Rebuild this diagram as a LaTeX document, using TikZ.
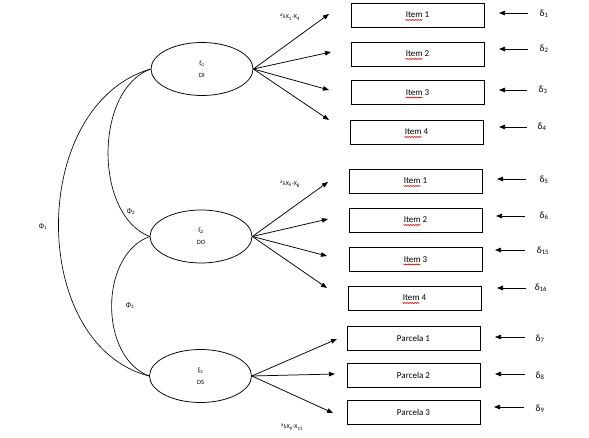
\documentclass[tikz,border=0pt]{standalone}
\usepackage{fontspec}
\setmainfont{Carlito}
\usetikzlibrary{arrows.meta,shapes.geometric,calc,decorations.pathmorphing}
\tikzset{
  every picture/.style={x=1pt,y=-1pt},
  lat/.style={draw,ellipse,line width=0.75pt,minimum width=102pt,minimum height=53pt,inner sep=0pt,align=center,font=\fontsize{6.5}{7}\selectfont},
  itembox/.style={draw,rectangle,line width=0.75pt,minimum width=133pt,minimum height=24pt,inner sep=0pt,font=\fontsize{9}{10}\selectfont},
  load/.style={line width=0.75pt,-{Triangle[length=6pt,width=4.5pt]}},
  err/.style={line width=0.75pt,-{Triangle[length=6pt,width=4.5pt]}},
  cov/.style={line width=0.65pt},
  dlab/.style={font=\fontsize{9.5}{10}\selectfont,inner sep=0pt},
  lamlab/.style={font=\fontsize{6}{7}\selectfont,inner sep=0pt},
  philab/.style={font=\fontsize{7}{8}\selectfont,inner sep=0pt},
  spell/.style={red!80!black,line width=0.4pt,decorate,decoration={zigzag,amplitude=0.5pt,segment length=1.6pt}},
}
\begin{document}
\begin{tikzpicture}
\useasboundingbox (0,0) rectangle (589,438);
% latent variables
\node[lat] (e1) at (202,69) {ξ\textsubscript{1}\\[5pt]DI};
\node[lat] (e2) at (201,236.5) {ξ\textsubscript{2}\\[5pt]DO};
\node[lat] (e3) at (200.5,376) {ξ\textsubscript{3}\\[5pt]DS};
% indicator boxes
\node[itembox] (b1) at (417.5,15) {Item 1};
\node[itembox] (b2) at (417.5,54) {Item 2};
\node[itembox] (b3) at (417.5,92.5) {Item 3};
\node[itembox] (b4) at (416.5,132) {Item 4};
\node[itembox] (b5) at (415.5,181) {Item 1};
\node[itembox] (b6) at (415.5,220) {Item 2};
\node[itembox] (b7) at (415.5,259.5) {Item 3};
\node[itembox] (b8) at (414.5,298) {Item 4};
\node[itembox] (b9) at (413.5,338.5) {Parcela 1};
\node[itembox] (b10) at (413.5,375.5) {Parcela 2};
\node[itembox] (b11) at (413.5,412) {Parcela 3};
% spell-check marks under "Item"
\foreach \i in {1,...,8} {\draw[spell] ($(b\i.center)+(-12,5)$) -- ($(b\i.center)+(5,5)$);}
% loading arrow tips
\coordinate (t1) at (329,14);
\coordinate (t2) at (331,52);
\coordinate (t3) at (329,90);
\coordinate (t4) at (329,120);
\coordinate (t5) at (328,182);
\coordinate (t6) at (328,219);
\coordinate (t7) at (327,256);
\coordinate (t8) at (327,288);
\coordinate (t9) at (337,339);
\coordinate (t10) at (335,374);
\coordinate (t11) at (333,413);
\foreach \i in {1,2,3,4} {\draw[load] (e1.east) -- (t\i);}
\foreach \i in {5,6,7,8} {\draw[load] (e2.east) -- (t\i);}
\foreach \i in {9,10,11} {\draw[load] (e3.east) -- (t\i);}
% loading labels
\node[lamlab] (l1) at (290,17) {\textsuperscript{a}λX\textsubscript{1}-X\textsubscript{4}};
\node[lamlab] (l2) at (290,184) {\textsuperscript{a}λX\textsubscript{5}-X\textsubscript{8}};
\node[lamlab] (l3) at (292,427) {\textsuperscript{a}λX\textsubscript{9}-X\textsubscript{11}};
% error terms
\node[dlab] (d1) at (544,14) {δ\textsubscript{1}};
\node[dlab] (d2) at (544,49) {δ\textsubscript{2}};
\node[dlab] (d3) at (543,90) {δ\textsubscript{3}};
\node[dlab] (d4) at (542,127) {δ\textsubscript{4}};
\node[dlab] (d5) at (544,180) {δ\textsubscript{5}};
\node[dlab] (d6) at (544,216) {δ\textsubscript{6}};
\node[dlab] (d7) at (543,251) {δ\textsubscript{15}};
\node[dlab] (d8) at (541,288) {δ\textsubscript{16}};
\node[dlab] (d9) at (540,339) {δ\textsubscript{7}};
\node[dlab] (d10) at (540,376) {δ\textsubscript{8}};
\node[dlab] (d11) at (540,409) {δ\textsubscript{9}};
\coordinate (s1) at (528,13);  \coordinate (u1) at (499,13);
\coordinate (s2) at (528,49);  \coordinate (u2) at (499,49);
\coordinate (s3) at (527,90);  \coordinate (u3) at (499,90);
\coordinate (s4) at (527,127); \coordinate (u4) at (499,127);
\coordinate (s5) at (526,179); \coordinate (u5) at (497,179);
\coordinate (s6) at (525,216); \coordinate (u6) at (496,216);
\coordinate (s7) at (525,250); \coordinate (u7) at (495,250);
\coordinate (s8) at (526,288); \coordinate (u8) at (497,288);
\coordinate (s9) at (525,337); \coordinate (u9) at (495,337);
\coordinate (s10) at (525,374); \coordinate (u10) at (495,374);
\coordinate (s11) at (524,407); \coordinate (u11) at (494,407);
\foreach \i in {1,...,11} {\draw[err] (s\i) -- (u\i);}
% covariances
\draw[cov] (e1.west) .. controls (28,105) and (28,345) .. (e3.west);
\draw[cov] (e1.west) .. controls (94,90) and (94,215) .. (e2.west);
\draw[cov] (e2.west) .. controls (99,255) and (99,357) .. (e3.west);
\node[philab] (p1) at (43,227) {Φ\textsubscript{1}};
\node[philab] (p2) at (131,212) {Φ\textsubscript{2}};
\node[philab] (p3) at (130,306) {Φ\textsubscript{3}};
\end{tikzpicture}
\end{document}
